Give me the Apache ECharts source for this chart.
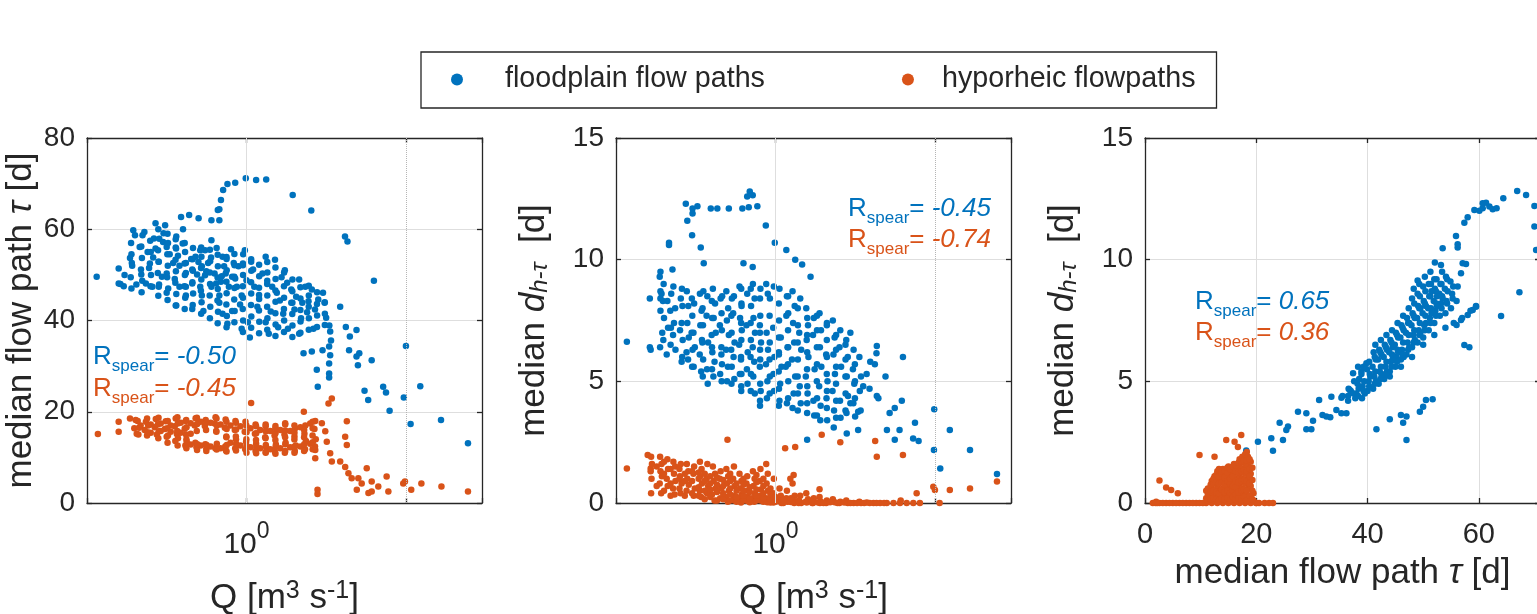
<!DOCTYPE html>
<html><head><meta charset="utf-8">
<script src="https://cdn.jsdelivr.net/npm/echarts@6/dist/echarts.min.js"></script>
<style>html,body{margin:0;padding:0;background:#fff}#c{width:1537px;height:614px}</style>
</head><body><div id="c"></div><script>
// ---------- data ----------
const seriesNames = ['floodplain flow paths', 'hyporheic flowpaths'];
const yTicks1 = [0, 20, 40, 60, 80];
const yTicks23 = [0, 5, 10, 15];
const xTicks3 = [0, 20, 40, 60];
const rSpear1 = ['-0.50', '-0.45'];
const rSpear2 = ['-0.45', '-0.74'];
const rSpear3 = ['0.65', '0.36'];

// Panel 1: [Q (m3/s), median flow path tau (d)]
const p1Blue = [
[0.115,49.6],[0.676,64.4],[0.692,66.4],[0.714,68.6],[0.76,69.9],[0.85,70.2],[0.99,71.2],[1.15,70.8],[1.33,70.9],
[1.95,67.5],[2.55,64.1],[4.15,58.4],[4.3,57.3],[6.3,48.7],[3.87,43.0],[10,34.4],[10.7,17.3],[16.6,18.2],[24.5,13.1],
[12.3,25.6],[9.7,23.1],[7.9,20.2],[7.2,25.5],[7.5,24.2],[5.5,24.6],[5.8,22.6],[6.1,31.3],[4.9,32.1],[5.1,32.8],
[5.0,30.2],[4.4,33.5],[4.2,38.6],[4.45,36.5],[4.9,37.9],[3.35,37.6],[3.3,34.3],[3.35,32.4],[3.3,30.6],[3.3,28.4],
[3.3,27.5],[2.76,29.2],[2.8,25.5],[2.57,33.2],[2.28,32.8],[3.0,33.5],
[0.158,51.4],[0.158,48.1],[0.162,48.0],[0.195,59.8],[0.2,58.7],[0.229,59.4],[0.186,53.7],[0.191,52.6],[0.204,47.9],
[0.214,56.1],[0.219,50.1],[0.245,51.5],[0.257,47.4],[0.269,61.3],[0.263,58.0],[0.269,55.8],[0.282,52.9],[0.309,60.9],
[0.302,59.1],[0.316,56.1],[0.316,50.3],[0.316,46.1],[0.363,58.4],[0.389,62.7],[0.398,56.9],[0.372,54.2],[0.380,52.0],
[0.355,49.1],[0.363,43.3],[0.417,45.5],[0.437,63.1],[0.417,52.6],[0.457,51.2],[0.457,42.5],[0.501,62.4],[0.513,55.4],
[0.490,50.1],[0.525,45.5],[0.537,42.1],[0.603,57.6],[0.603,62.0],[0.575,52.6],[0.631,50.3],[0.603,47.4],[0.661,64.2],
[0.676,62.0],[0.708,54.0],[0.692,48.5],[0.708,41.5],[0.676,43.9],[0.741,50.3],[0.759,39.3],[0.776,47.4],[0.813,42.1],
[0.832,52.6],[0.891,51.9],[0.933,45.5],[0.933,38.2],[0.912,43.5],[0.977,55.4],[1.0,48.8],[1.02,39.6],[1.05,36.3],
[1.07,52.9],[1.12,47.4],[1.17,43.0],[1.26,50.3],[1.32,54.0],[1.32,39.6],[1.38,37.1],[1.45,47.4],[1.51,53.3],[1.58,38.5],
[1.62,44.4],[1.66,49.5],[1.74,51.0],[1.82,38.2],[1.91,43.9],[1.91,46.8],[2.0,42.4],[2.14,49.0],[2.14,37.1],[2.24,43.9],
[2.34,47.4],[2.40,41.8],[2.57,46.8],[2.63,38.2],[2.69,42.4],[2.82,44.6],[3.02,46.1],[3.09,43.9],[3.16,40.6],[3.31,38.9],
[3.39,35.6],[0.417,50.4],[0.457,48.1],[0.525,51.9],[0.550,49.9],[0.646,48.1],[0.479,54.0],[0.513,47.4],[0.550,55.4],
[0.724,51.9],[0.813,49.6],[0.871,47.4],[0.676,45.5],[0.417,47.4],[0.380,47.4],[0.347,52.6],[0.295,49.6],[0.282,47.4],
[0.234,48.1],[0.45,53.5],[0.5,52.8],[0.56,50.8],[0.6,53.8],[0.65,55.9],[0.7,49.7],[0.75,53.9],[0.8,55.6],[0.85,49.2],
[0.95,52.1],[1.1,51.2],[1.2,45.6],[1.35,48.7],[1.42,42.0],[1.55,46.1],[1.7,41.5],[1.8,48.3],[2.05,45.2],[2.2,40.5],
[2.45,44.2],[0.36,56.0],[0.40,60.0],[0.33,54.5],[0.3,57.2],[0.26,53.8],[0.24,55.0],
[0.17,47.5],[0.172,50.0],[0.19,47.0],[0.188,49.5],[0.192,52.0],[0.19,54.5],[0.189,57.0],
[0.22,46.2],[0.222,48.7],[0.218,51.2],[0.221,53.7],[0.219,56.2],[0.223,58.7],
[0.25,47.5],[0.252,50.0],[0.248,52.5],[0.251,55.0],[0.249,57.5],
[0.28,45.4],[0.283,47.9],[0.278,50.4],[0.281,52.9],[0.279,55.4],[0.284,57.9],[0.28,60.0],
[0.32,44.5],[0.323,47.0],[0.318,49.5],[0.321,52.0],[0.319,54.5],[0.322,57.0],[0.32,59.0],
[0.36,43.3],[0.363,45.8],[0.358,48.3],[0.361,50.8],[0.359,53.3],[0.362,55.8],[0.36,57.8],
[0.41,42.5],[0.413,45.0],[0.408,47.5],[0.411,50.0],[0.409,52.5],[0.412,55.0],[0.41,57.0],
[0.46,43.4],[0.463,45.9],[0.458,48.4],[0.461,50.9],[0.459,53.4],[0.462,55.9],
[0.52,41.5],[0.523,44.0],[0.518,46.5],[0.521,49.0],[0.519,51.5],[0.522,54.0],[0.52,56.0],
[0.59,40.5],[0.593,43.0],[0.588,45.5],[0.591,48.0],[0.589,50.5],[0.592,53.0],[0.59,55.5],
[0.66,39.4],[0.663,41.9],[0.658,44.4],[0.661,46.9],[0.659,49.4],[0.662,51.9],[0.66,54.4],
[0.75,38.5],[0.753,41.0],[0.748,43.5],[0.751,46.0],[0.749,48.5],[0.752,51.0],[0.75,53.5],
[0.84,39.6],[0.843,42.1],[0.838,44.6],[0.841,47.1],[0.839,49.6],[0.842,52.1],[0.84,54.6],
[0.95,37.5],[0.953,40.0],[0.948,42.5],[0.951,45.0],[0.949,47.5],[0.952,50.0],[0.95,52.5],[0.954,54.5],
[1.07,38.4],[1.073,40.9],[1.068,43.4],[1.071,45.9],[1.069,48.4],[1.072,50.9],[1.07,53.4],
[1.2,37.2],[1.203,39.7],[1.198,42.2],[1.201,44.7],[1.199,47.2],[1.202,49.7],[1.2,52.2],
[1.35,38.0],[1.353,40.5],[1.348,43.0],[1.351,45.5],[1.349,48.0],[1.352,50.5],[1.35,52.8],
[1.52,36.6],[1.523,39.1],[1.518,41.6],[1.521,44.1],[1.519,46.6],[1.522,49.1],[1.52,51.6],
[1.72,37.5],[1.723,40.0],[1.718,42.5],[1.721,45.0],[1.719,47.5],[1.722,50.5],
[1.94,36.4],[1.943,38.9],[1.938,41.4],[1.941,43.9],[1.939,46.4],[1.942,49.0],
[2.18,37.3],[2.183,39.8],[2.178,42.3],[2.181,44.8],[2.179,47.3],
[2.46,38.0],[2.463,40.5],[2.458,43.0],[2.461,45.5],[2.459,47.6],
[2.77,38.6],[2.773,41.1],[2.768,43.6],[2.771,46.2],[3.1,39.0],[3.103,41.5],[3.098,44.0]
];
const p1Orange = [
[0.117,15.1],[0.158,17.8],[0.158,15.6],[0.186,18.5],[1.07,21.9],[2.29,20.0],[3.43,22.9],[3.27,21.8],[2.97,17.5],
[3.12,15.7],[3.19,13.4],[2.70,11.6],[2.70,9.8],[3.35,10.9],[3.43,9.1],[3.87,9.1],[4.16,14.5],[4.26,12.7],[4.26,17.9],
[4.16,7.9],[4.36,6.5],[4.57,5.4],[5.03,5.4],[5.28,4.3],[4.92,2.9],[5.68,7.6],[6.10,4.7],[6.71,3.6],[7.57,5.8],[7.76,2.5],
[5.82,2.2],[6.10,2.5],[2.79,2.9],[2.79,2.0],[9.62,4.3],[9.86,4.7],[10.8,2.9],[12.5,4.3],[16.7,3.6],[24.5,2.5],
[0.202,18.2],[0.198,16.4],[0.205,15.2],[0.234,17.8],[0.230,16.0],[0.238,14.8],[0.270,18.4],[0.266,16.6],[0.274,15.0],
[0.312,17.9],[0.308,16.2],[0.316,14.5],[0.360,18.5],[0.355,16.8],[0.366,15.1],[0.358,13.6],[0.416,18.0],[0.410,16.3],
[0.420,14.0],[0.414,12.6],[0.480,18.6],[0.474,17.0],[0.486,12.2],[0.478,13.2],[0.555,18.2],[0.548,16.9],[0.560,11.9],
[0.552,12.9],[0.640,18.8],[0.632,17.4],[0.646,15.8],[0.638,12.0],[0.740,18.3],[0.732,16.5],[0.748,14.6],[0.736,12.4],
[0.744,11.5],[0.853,18.0],[0.845,16.0],[0.860,14.0],[0.850,12.0],[0.986,17.8],[0.975,15.6],[0.995,13.4],[0.982,11.8],
[1.14,17.2],[1.13,15.2],[1.15,13.0],[1.14,11.4],[1.32,16.8],[1.31,14.4],[1.33,12.2],[1.32,11.0],[1.52,16.9],[1.50,14.8],
[1.53,12.8],[1.51,11.2],[1.75,17.2],[1.73,15.0],[1.76,13.2],[1.74,11.0],[2.02,16.4],[2.00,14.6],[2.04,12.6],[2.01,11.4],
[2.34,17.0],[2.31,15.2],[2.36,13.6],[2.33,11.8],[2.70,18.0],[2.67,16.2],[2.72,14.0],[2.69,12.4],
[0.217,17.0],[0.251,17.2],[0.251,15.4],[0.290,17.4],[0.290,15.8],[0.335,17.0],[0.335,15.6],[0.387,17.6],[0.387,15.4],
[0.447,17.5],[0.447,15.2],[0.447,12.8],[0.516,17.8],[0.516,12.6],[0.596,17.6],[0.596,12.4],[0.688,17.2],[0.688,12.0],
[0.794,17.0],[0.794,13.2],[0.917,16.8],[0.917,12.6],[1.06,16.4],[1.06,12.2],[1.22,16.0],[1.22,12.0],[1.41,15.8],
[1.41,11.8],[1.63,16.0],[1.63,12.0],[1.88,15.8],[1.88,12.2],[2.18,16.6],[2.18,12.4],[2.51,17.4],[2.51,13.0],
[0.21,15.0],[0.212,16.5],[0.208,18.0],[0.24,15.5],[0.242,17.0],[0.238,18.5],
[0.28,14.2],[0.282,15.7],[0.278,17.2],[0.281,18.7],[0.32,13.2],[0.322,14.8],[0.318,16.4],[0.321,18.0],
[0.37,12.6],[0.372,14.2],[0.368,15.8],[0.371,17.4],[0.369,18.8],[0.42,12.0],[0.422,13.5],[0.418,15.0],[0.421,16.6],[0.419,18.2],
[0.49,11.6],[0.492,12.9],[0.488,15.8],[0.491,17.3],[0.489,18.7],[0.56,11.4],[0.562,12.7],[0.558,16.0],[0.561,17.6],
[0.65,11.7],[0.652,13.0],[0.648,15.6],[0.651,17.0],[0.649,18.5],[0.75,11.3],[0.752,12.7],[0.748,14.4],[0.751,16.2],[0.749,17.8],
[0.86,11.5],[0.862,13.0],[0.858,14.6],[0.861,16.1],[0.859,17.6],[1.0,11.0],[1.003,12.5],[0.998,14.0],[1.001,15.5],[0.999,17.0],
[1.15,10.9],[1.153,12.3],[1.148,13.8],[1.151,15.3],[1.149,16.8],[1.32,11.2],[1.323,12.7],[1.318,14.2],[1.321,15.7],[1.319,17.2],
[1.52,10.8],[1.523,12.3],[1.518,13.8],[1.521,15.3],[1.519,16.4],[1.75,11.4],[1.753,12.9],[1.748,14.4],[1.751,15.9],[1.749,17.5],
[2.0,11.0],[2.003,12.4],[1.998,13.9],[2.001,15.4],[1.999,17.0],[2.3,11.4],[2.303,12.9],[2.298,14.4],[2.301,16.0],
[2.6,11.8],[2.603,13.3],[2.598,14.8],[2.601,16.4],[2.599,17.8]
];

// Panel 2: [Q (m3/s), median d_h-tau (d)]
const p2Blue = [
[0.117,6.63],[0.274,12.3],[0.302,12.1],[0.302,11.9],[0.324,12.2],[0.28,11.6],[0.30,11.0],[0.34,10.5],[0.355,9.85],
[0.393,12.1],[0.432,12.1],[0.51,12.1],[0.62,12.1],[0.68,12.15],[0.665,12.6],[0.69,12.8],[0.72,12.65],[0.77,12.2],
[0.87,11.4],[0.99,10.7],[1.17,10.4],[1.33,10.0],[1.47,9.8],[1.66,9.3],[0.63,9.85],[0.72,9.7],[0.215,10.7],[0.215,10.6],
[0.226,9.6],[0.19,9.5],[0.19,8.4],[0.19,8.7],[0.163,8.4],[0.163,6.4],[0.165,6.3],
[4.32,6.45],[3.93,5.8],[4.9,5.2],[4.32,4.4],[4.42,4.3],[6.3,6.0],[6.2,4.2],[5.6,3.9],[5.2,3.7],[5.0,3.0],[6.0,3.0],
[5.6,2.6],[7.5,3.3],[7.3,2.65],[7.9,2.55],[9.9,3.85],[9.86,2.18],[10.8,1.42],[12.4,3.0],[16.6,2.18],[24.5,1.19],
[3.89,4.7],[3.3,3.75],[3.3,3.0],[2.8,2.86],[3.16,3.55],[2.95,4.1],[3.55,4.8],[3.73,5.3],[4.2,5.7],[4.3,6.15],[2.95,7.0],
[1.58,2.6],
[0.188,9.3],[0.193,8.6],[0.190,7.9],[0.195,7.0],[0.189,6.4],
[0.229,8.9],[0.235,8.0],[0.231,7.4],[0.236,6.3],[0.228,6.9],
[0.278,8.7],[0.284,8.1],[0.280,7.4],[0.286,6.8],[0.277,6.2],[0.283,5.9],
[0.336,8.6],[0.344,7.9],[0.338,7.3],[0.346,6.7],[0.335,6.1],[0.342,5.4],
[0.405,8.8],[0.418,8.2],[0.410,7.6],[0.422,7.0],[0.400,6.4],[0.415,5.8],[0.408,5.2],
[0.492,8.7],[0.505,8.0],[0.496,7.5],[0.510,6.9],[0.490,6.3],[0.503,5.6],[0.497,5.0],
[0.595,8.9],[0.612,8.2],[0.600,7.6],[0.615,7.1],[0.592,6.5],[0.608,5.9],[0.598,5.3],[0.610,4.8],
[0.722,9.0],[0.740,8.4],[0.728,7.6],[0.744,7.0],[0.720,6.4],[0.736,5.8],[0.726,5.2],[0.742,4.5],
[0.875,9.0],[0.895,8.6],[0.880,7.0],[0.898,6.3],[0.872,5.7],[0.890,5.0],[0.884,4.3],
[1.06,8.8],[1.08,6.8],[1.05,6.2],[1.09,5.6],[1.07,4.9],[1.06,4.2],
[1.28,8.7],[1.32,8.1],[1.29,7.4],[1.31,6.6],[1.27,5.9],[1.33,5.2],[1.30,4.5],[1.28,3.9],
[1.56,8.0],[1.60,7.3],[1.57,6.7],[1.61,6.0],[1.55,5.2],[1.59,4.5],[1.58,3.7],
[1.89,7.8],[1.93,7.1],[1.90,6.4],[1.94,5.6],[1.88,4.8],[1.92,4.0],[1.91,3.4],
[2.29,7.5],[2.35,6.8],[2.31,6.1],[2.36,5.3],[2.28,4.6],[2.33,3.8],[2.32,3.1],
[2.78,6.7],[2.84,6.0],[2.80,5.2],[2.85,4.4],[2.79,3.7],
[3.36,6.0],[3.44,5.2],[3.38,4.6],[3.42,3.8],
[0.210,8.3],[0.212,7.2],[0.208,6.1],[0.255,8.4],[0.252,7.1],[0.258,5.8],
[0.309,8.2],[0.306,7.0],[0.312,6.4],[0.307,5.6],[0.374,8.5],[0.370,7.7],[0.378,6.6],[0.372,5.5],[0.376,4.9],
[0.453,8.4],[0.448,7.3],[0.458,6.1],[0.450,5.3],[0.549,8.5],[0.543,7.8],[0.554,6.6],[0.546,6.0],[0.552,5.1],
[0.665,8.6],[0.658,7.3],[0.670,6.2],[0.662,5.5],[0.668,4.9],[0.805,8.8],[0.798,7.3],[0.812,6.6],[0.802,5.9],
[0.808,4.6],[0.800,4.0],[0.977,8.9],[0.968,7.2],[0.985,6.0],[0.972,5.3],[0.980,4.6],[1.18,8.5],[1.17,7.7],[1.19,6.4],
[1.16,5.6],[1.18,4.1],[1.43,8.4],[1.41,7.0],[1.45,6.3],[1.42,4.8],[1.44,4.1],[1.74,7.6],[1.72,6.9],[1.76,5.5],
[1.73,4.2],[1.75,3.6],[2.10,7.3],[2.08,6.1],[2.12,5.0],[2.09,4.3],[2.11,3.4],[2.55,7.1],[2.52,6.4],[2.58,5.6],
[2.54,4.2],[2.56,3.5],[3.09,6.3],[3.06,5.5],[3.12,4.9],[3.08,4.1],
[0.198,6.7],[0.2,7.6],[0.197,8.3],[0.199,9.0],[0.22,6.5],[0.221,7.2],[0.219,7.9],[0.222,8.6],
[0.26,6.0],[0.262,6.7],[0.258,7.4],[0.261,8.1],[0.259,8.8],[0.30,5.6],[0.302,6.3],[0.298,7.0],[0.301,7.7],[0.299,8.4],
[0.35,5.2],[0.352,5.9],[0.348,6.6],[0.351,7.3],[0.349,8.0],[0.353,8.7],[0.40,5.5],[0.402,6.2],[0.398,6.9],[0.401,7.6],[0.399,8.3],
[0.46,5.0],[0.462,5.7],[0.458,6.4],[0.461,7.1],[0.459,7.8],[0.463,8.5],[0.53,4.9],[0.532,5.6],[0.528,6.3],[0.531,7.0],[0.529,7.7],[0.533,8.4],
[0.61,4.6],[0.612,5.3],[0.608,6.0],[0.611,6.7],[0.609,7.4],[0.613,8.1],[0.61,8.8],
[0.70,4.6],[0.702,5.3],[0.698,6.0],[0.701,6.7],[0.699,7.4],[0.703,8.1],[0.70,8.8],
[0.80,4.2],[0.802,4.9],[0.798,5.6],[0.801,6.3],[0.799,7.0],[0.803,7.7],[0.80,8.4],
[0.92,4.5],[0.922,5.2],[0.918,5.9],[0.921,6.6],[0.919,7.7],[0.923,8.4],
[1.05,4.0],[1.052,4.7],[1.048,5.4],[1.051,6.1],[1.049,6.8],[1.053,7.5],[1.05,8.2],
[1.2,4.3],[1.203,5.0],[1.198,5.7],[1.201,6.4],[1.199,7.1],[1.202,7.8],[1.2,8.5],
[1.38,3.8],[1.383,4.5],[1.378,5.2],[1.381,5.9],[1.379,6.6],[1.382,7.3],[1.38,8.0],
[1.58,4.1],[1.583,4.8],[1.578,5.5],[1.581,6.2],[1.579,6.9],[1.582,7.6],
[1.82,3.6],[1.823,4.3],[1.818,5.0],[1.821,5.7],[1.819,6.4],[1.822,7.1],[1.82,7.7],
[2.1,3.9],[2.103,4.6],[2.098,5.3],[2.101,6.0],[2.099,6.7],[2.102,7.4],
[2.4,3.5],[2.403,4.2],[2.398,4.9],[2.401,5.6],[2.399,6.3],[2.402,6.9],
[2.75,3.8],[2.753,4.5],[2.748,5.2],[2.751,5.9],[2.749,6.5],[3.15,4.3],[3.153,5.0],[3.148,5.7]
];
const p2Orange = [
[0.117,1.42],[0.158,1.97],[0.165,1.42],[0.50,2.6],[1.15,2.25],[1.33,2.3],[1.95,2.8],[2.55,2.5],[4.22,2.55],[4.32,1.9],
[6.3,1.97],[7.68,0.4],[9.77,0.67],[10.0,0.53],[12.4,0.53],[16.6,0.6],[24.5,0.88],[10.7,0],[1.89,0.56],[1.30,1.15],
[1.24,1.0],
[0.166,1.9],[0.168,1.6],[0.165,1.3],[0.167,1.0],[0.166,0.4],
[0.189,1.9],[0.193,1.6],[0.190,1.3],[0.194,1.1],[0.188,0.8],[0.192,0.4],
[0.229,1.7],[0.235,1.5],[0.231,1.2],[0.236,0.9],[0.228,0.6],[0.233,0.35],
[0.278,1.6],[0.284,1.3],[0.280,1.0],[0.286,0.75],[0.277,0.5],
[0.336,1.7],[0.344,1.4],[0.338,1.1],[0.346,0.8],[0.335,0.5],[0.342,0.25],
[0.405,1.5],[0.418,1.2],[0.410,0.9],[0.422,0.6],[0.400,0.35],[0.415,0.1],
[0.492,1.4],[0.505,1.1],[0.496,0.8],[0.510,0.5],[0.490,0.25],[0.503,0.05],
[0.595,1.2],[0.612,0.9],[0.600,0.6],[0.615,0.35],[0.592,0.15],[0.608,0.02],
[0.722,1.3],[0.740,1.0],[0.728,0.7],[0.744,0.4],[0.720,0.2],[0.736,0.05],
[0.875,1.6],[0.895,1.2],[0.880,0.8],[0.898,0.5],[0.872,0.2],[0.890,0.03],
[1.06,0.6],[1.08,0.3],[1.05,0.1],[1.09,0.0],[1.28,0.8],[1.32,0.3],[1.29,0.1],[1.31,0.0],
[1.56,0.4],[1.60,0.15],[1.57,0.02],[1.89,0.25],[1.93,0.05],[1.90,0.0],[2.29,0.15],[2.35,0.03],
[2.78,0.1],[2.84,0.0],[3.36,0.05],[3.44,0.0],[4.12,0.0],[4.99,0.0],[6.04,0.0],[6.1,0.1],[7.32,0.0],
[0.210,1.8],[0.212,1.4],[0.208,1.0],[0.211,0.7],[0.255,1.6],[0.252,1.1],[0.258,0.8],[0.254,0.4],
[0.309,1.5],[0.306,1.2],[0.312,0.6],[0.307,0.3],[0.374,1.6],[0.370,1.0],[0.378,0.7],[0.372,0.4],
[0.453,1.3],[0.448,1.0],[0.458,0.6],[0.450,0.2],[0.549,1.5],[0.543,1.0],[0.554,0.7],[0.546,0.3],[0.552,0.1],
[0.665,1.1],[0.658,0.8],[0.670,0.5],[0.662,0.25],[0.668,0.08],[0.805,1.4],[0.798,0.9],[0.812,0.55],[0.802,0.3],
[0.808,0.1],[0.977,1.0],[0.968,0.4],[0.985,0.15],[0.972,0.02],[1.18,0.5],[1.17,0.2],[1.19,0.05],
[1.43,0.3],[1.41,0.08],[1.45,0.0],[1.74,0.2],[1.72,0.0],[2.10,0.1],[2.08,0.0],[2.55,0.05],[2.52,0.0],
[3.09,0.0],[3.74,0.02],[4.53,0.0],[5.5,0.0],[6.65,0.0],[8.05,0.0],
[0.18,0.7],[0.18,1.5],[0.2,0.5],[0.2,1.2],[0.2,1.7],[0.22,0.3],[0.22,0.8],[0.22,1.4],[0.25,0.6],[0.25,1.0],[0.25,1.4],
[0.27,0.3],[0.27,0.9],[0.27,1.2],[0.3,0.4],[0.3,0.9],[0.3,1.3],[0.33,0.3],[0.33,0.65],[0.33,1.0],[0.33,1.25],
[0.36,0.15],[0.36,0.5],[0.36,0.9],[0.36,1.2],[0.39,0.25],[0.39,0.55],[0.39,0.8],[0.39,1.1],
[0.43,0.1],[0.43,0.45],[0.43,0.75],[0.43,1.05],[0.47,0.15],[0.47,0.4],[0.47,0.7],[0.47,0.95],
[0.52,0.1],[0.52,0.35],[0.52,0.6],[0.52,0.9],[0.52,1.2],[0.57,0.05],[0.57,0.25],[0.57,0.5],[0.57,0.8],
[0.63,0.1],[0.63,0.3],[0.63,0.5],[0.63,0.75],[0.63,1.0],[0.69,0.03],[0.69,0.2],[0.69,0.45],[0.69,0.65],
[0.76,0.1],[0.76,0.3],[0.76,0.55],[0.76,0.85],[0.76,1.15],[0.84,0.05],[0.84,0.2],[0.84,0.4],[0.84,0.7],[0.84,1.0],
[0.93,0.02],[0.93,0.15],[0.93,0.35],[0.93,0.6],[1.0,0.05],[1.0,0.25],[1.12,0.0],[1.12,0.12],[1.25,0.04],[1.25,0.2],
[1.4,0.0],[1.4,0.1],[1.55,0.05],[1.7,0.0],[1.7,0.08],[1.85,0.02],[2.0,0.0],[2.2,0.03],[2.45,0.0],[2.7,0.02],
[2.95,0.0],[3.25,0.0],[3.6,0.0],[3.9,0.0],[4.3,0.0],[4.8,0.0]
];

// Panel 3: [median flow path tau (d), median d_h-tau (d)]
const p3Blue = [
[18.2,2.16],[20.3,2.52],[23.0,2.15],[22.7,2.66],[24.2,3.3],[24.8,2.59],[25.4,3.0],[25.7,3.14],[27.5,3.75],[29.0,3.69],
[29.0,3.03],[29.9,3.03],[30.2,3.38],[31.3,4.23],[31.9,3.62],[32.6,3.55],[33.3,3.52],[33.5,4.37],[35.3,4.33],[34.4,3.82],
[35.3,3.69],[36.2,3.69],[36.8,4.64],[37.4,5.33],[38.9,5.40],[39.8,5.74],[41.6,3.03],[44.0,3.44],[46.0,3.62],[46.4,3.3],
[47.0,2.59],[47.0,3.55],[49.4,3.75],[50.5,4.23],[51.7,4.26],[50.0,3.96],[57.4,6.49],[58.3,6.40],[64.0,7.69],[67.3,8.66],
[59.5,8.07],[58.9,7.93],[58.0,7.73],[56.8,7.52],[56.0,7.32],[57.1,9.85],[57.7,9.82],[56.8,9.44],[52.1,9.88],[53.2,9.78],
[49.0,9.14],[53.5,10.47],[55.9,10.97],[56.2,10.63],[56.2,10.5],[57.4,11.52],[58.0,11.74],[59.2,12.04],[60.1,12.01],
[60.7,12.32],[61.3,12.34],[61.9,12.18],[62.5,12.07],[63.2,12.11],[60.7,12.11],[64.4,12.52],[66.9,12.82],[68.5,12.66],
[70.0,12.21],[70.0,11.36],[70.3,10.4],
[44,5.2],[46,5.6],[48,6.0],[50,6.5],[52,6.9],[54,7.2],[55.5,7.4],[57,7.6],[58.5,7.9],[59.5,8.1],
[38,4.5],[38.2,4.9],[39,4.3],[39.1,4.8],[38.9,5.3],[40,4.6],[40.2,5.0],[39.9,5.5],[41,4.7],[41.2,5.2],[40.9,5.6],[41.1,6.2],
[42,4.9],[42.2,5.4],[41.9,5.9],[42.1,6.3],[43,5.1],[43.2,5.6],[42.9,6.0],[43.1,6.5],[44,5.4],[44.2,5.8],[43.9,6.2],[44.1,6.7],
[45,5.6],[45.2,6.0],[44.9,6.5],[45.1,7.0],[46,5.9],[46.2,6.3],[45.9,6.8],[46.1,7.3],[47,6.1],[47.2,6.6],[46.9,7.0],[47.1,7.6],
[48,6.4],[48.2,6.9],[47.9,7.3],[48.1,7.8],[48.0,8.4],[49,6.6],[49.2,7.1],[48.9,7.6],[49.1,8.1],[49.0,8.6],
[50,6.8],[50.2,7.3],[49.9,7.8],[50.1,8.3],[50.0,8.9],[51,7.1],[51.2,7.6],[50.9,8.0],[51.1,8.5],[51.0,9.0],
[52,7.4],[52.2,7.9],[51.9,8.3],[52.1,8.8],[52.0,9.2],[53,7.7],[53.2,8.2],[52.9,8.6],[53.1,9.0],
[54,7.8],[54.2,8.3],[53.9,8.8],[54.1,9.3],[55,8.0],[55.2,8.6],[54.9,9.1],[56,8.3],[56.2,8.9],
[38.5,5.1],[39.5,4.5],[40.5,5.2],[41.5,5.0],[41.5,5.9],[42.5,5.3],[42.5,6.1],[43.5,5.4],[43.5,6.3],[44.5,5.9],[44.5,6.4],
[45.5,6.2],[45.5,6.8],[46.5,6.0],[46.5,7.1],[47.5,6.4],[47.5,7.4],[48.5,6.7],[48.5,7.6],[49.5,7.0],[49.5,8.0],[50.5,7.4],
[50.5,8.1],[51.5,7.8],[51.5,8.7],[52.5,8.1],[52.5,8.5],[53.5,8.4],[36.5,4.4],[37,4.6],[37.8,4.3],[35.5,4.4],
[36.5,4.2],[36.6,4.7],[37.5,4.5],[37.6,5.0],[38.3,4.4],[38.4,4.7],[38.3,5.6],[39.3,4.6],[39.4,5.0],[39.3,5.6],
[40.3,4.8],[40.4,5.3],[40.3,5.8],[41.3,4.9],[41.4,5.4],[41.3,6.0],[41.4,6.5],[42.3,5.1],[42.4,5.6],[42.3,6.2],[42.4,6.7],
[43.3,5.3],[43.4,5.8],[43.3,6.4],[43.4,6.9],[44.3,5.6],[44.4,6.1],[44.3,6.6],[44.4,7.1],[45.3,5.8],[45.4,6.3],[45.3,6.9],[45.4,7.4],
[46.3,6.1],[46.4,6.6],[46.3,7.2],[46.4,7.7],[47.3,6.3],[47.4,6.9],[47.3,7.4],[47.4,8.0],
[48.3,6.6],[48.4,7.1],[48.3,7.7],[48.4,8.2],[48.3,8.8],[49.3,6.9],[49.4,7.4],[49.3,8.0],[49.4,8.5],[49.3,9.0],
[50.3,7.1],[50.4,7.7],[50.3,8.2],[50.4,8.7],[50.3,9.3],[51.3,7.4],[51.4,8.0],[51.3,8.5],[51.4,9.0],[51.3,9.5],
[52.3,7.7],[52.4,8.2],[52.3,8.7],[52.4,9.2],[53.3,8.0],[53.4,8.5],[53.3,9.0],[53.4,9.5],
[54.3,8.2],[54.4,8.7],[54.3,9.2],[55.3,8.4],[55.4,8.9]
];
const p3Orange = [
[1.4,0],[2.6,0],[3.8,0],[5.0,0],[6.2,0],[7.4,0],[9.2,0],[11.0,0],[20.0,0],[21.5,0],[23.0,0],
[1.9,0],[2.2,0],[3.2,0],[4.4,0],[5.6,0],[6.8,0],[8.0,0],[8.6,0],[9.8,0],[10.4,0],[20.5,0],[22.3,0],[2.0,0.05],
[2.6,0.92],[3.8,0.64],[4.7,0.53],[5.9,0.40],[9.8,1.97],[12.5,1.9],[14.6,2.59],[16.1,2.52],[17.3,2.79],[16.7,2.3],
[11,0.2],[11,0.5],[12,0],[12,0.3],[12,0.6],[12,0.9],[12.5,0.1],[12.5,0.5],[12.5,1.1],
[13,0],[13,0.3],[13,0.7],[13,1.0],[13,1.3],[13.5,0.15],[13.5,0.5],[13.5,0.9],[13.5,1.2],
[14,0],[14,0.3],[14,0.6],[14,1.0],[14,1.4],[14.5,0.1],[14.5,0.5],[14.5,0.8],[14.5,1.2],
[15,0],[15,0.3],[15,0.7],[15,1.1],[15,1.5],[15.5,0.2],[15.5,0.6],[15.5,0.9],[15.5,1.3],
[16,0],[16,0.4],[16,0.8],[16,1.2],[16,1.6],[16.5,0.1],[16.5,0.5],[16.5,1.0],[16.5,1.4],
[17,0],[17,0.3],[17,0.7],[17,1.1],[17,1.5],[17,1.8],[17.5,0.2],[17.5,0.6],[17.5,1.0],[17.5,1.4],[17.5,1.9],
[18,0],[18,0.4],[18,0.8],[18,1.2],[18,1.6],[18,2.0],[18.5,0.2],[18.5,0.6],[18.5,1.0],[18.5,1.5],[18.5,1.9],
[19,0],[19,0.3],[19,0.7],[19,1.2],[19,1.7],[19.5,0.1],[19.5,0.4],[20,0],
[11.3,0.1],[11.3,0.35],[11.3,0.6],[11.8,0.15],[11.8,0.45],[11.8,0.75],[12.3,0.2],[12.3,0.5],[12.3,0.8],[12.3,1.0],
[12.8,0.15],[12.8,0.45],[12.8,0.85],[12.8,1.15],[13.3,0.1],[13.3,0.4],[13.3,0.8],[13.3,1.1],[13.3,1.4],
[13.8,0.2],[13.8,0.55],[13.8,0.85],[13.8,1.2],[13.8,1.3],[14.3,0.15],[14.3,0.45],[14.3,0.75],[14.3,1.05],[14.3,1.35],
[14.8,0.2],[14.8,0.5],[14.8,0.9],[14.8,1.25],[14.8,1.45],[15.3,0.1],[15.3,0.4],[15.3,0.8],[15.3,1.0],[15.3,1.4],
[15.8,0.25],[15.8,0.5],[15.8,0.7],[15.8,1.1],[15.8,1.5],[16.3,0.15],[16.3,0.35],[16.3,0.65],[16.3,0.9],[16.3,1.3],[16.3,1.55],
[16.8,0.2],[16.8,0.45],[16.8,0.85],[16.8,1.25],[16.8,1.65],[17.3,0.1],[17.3,0.5],[17.3,0.9],[17.3,1.3],[17.3,1.7],
[17.8,0.25],[17.8,0.55],[17.8,0.95],[17.8,1.35],[17.8,1.75],[18.3,0.1],[18.3,0.5],[18.3,0.9],[18.3,1.3],[18.3,1.75],[18.3,2.1],
[18.8,0.3],[18.8,0.8],[18.8,1.1],[18.8,1.4],[18.8,1.8],[19.3,0.15],[19.3,0.5],[19.3,0.95],[19.3,1.45]
];

// ---------- styling ----------
const FF = "'Liberation Sans', Arial, Helvetica, sans-serif";
const AX = '#262626';
const GRIDC = '#dedede';
const BLUE = '#0072BD';
const ORANGE = '#D95319';
const GRIDS = [
  {left: 87, top: 138, width: 395, height: 365},
  {left: 616, top: 138, width: 395, height: 365},
  {left: 1145, top: 138, width: 395, height: 365}
];

const axisLine = {show: true, onZero: false, lineStyle: {color: AX, width: 1.3}};
const tickIn = {show: true, inside: true, length: 5, lineStyle: {color: AX, width: 1.3}};

const logLabel = {
  margin: 17,
  formatter: v => (Math.abs(v - 1) < 1e-9 ? '{b|10}{s|0}' : ''),
  rich: {
    b: {fontSize: 30, lineHeight: 50, fontFamily: FF, color: AX},
    s: {fontSize: 23, lineHeight: 23, verticalAlign: 'top', fontFamily: FF, color: AX}
  }
};
const qName = {
  name: 'Q [m{sup|3} s{sup|-1}]',
  nameLocation: 'middle', nameGap: 76,
  nameTextStyle: {fontSize: 35, lineHeight: 38, fontFamily: FF, color: AX,
    rich: {sup: {fontSize: 25, lineHeight: 25, verticalAlign: 'top', fontFamily: FF, color: AX}}}
};
function logX(grid) {
  return Object.assign({
    type: 'log', logBase: 10, gridIndex: grid, min: 0.1, max: 30, position: 'bottom',
    axisLine, axisTick: tickIn, axisLabel: logLabel, splitLine: {show: false}, minorTick: {show: false}
  }, qName);
}
function logXTop(grid) {
  return {type: 'log', logBase: 10, gridIndex: grid, min: 0.1, max: 30, position: 'top',
    axisLine, axisTick: tickIn, axisLabel: {show: false}, splitLine: {show: false}};
}
const tauName = 'median flow path {it|τ} [d]';
const dName = 'median {it|d}{sub|h-τ}  [d]';
const nameRich = {
  it: {fontStyle: 'italic', fontSize: 35, fontFamily: FF, color: AX},
  sub: {fontStyle: 'italic', fontSize: 24, lineHeight: 24, verticalAlign: 'bottom', fontFamily: FF, color: AX}
};
function valY(grid, max, interval, name, gap) {
  return {
    type: 'value', gridIndex: grid, min: 0, max, interval, position: 'left',
    axisLine, axisTick: tickIn,
    axisLabel: {fontSize: 28, fontFamily: FF, color: AX, margin: 12},
    splitLine: {show: true, lineStyle: {color: GRIDC, width: 1}},
    name, nameLocation: 'middle', nameGap: gap, nameRotate: 90,
    nameTextStyle: {fontSize: 35, lineHeight: 36, fontFamily: FF, color: AX, rich: nameRich}
  };
}
function valYRight(grid, max, interval) {
  return {type: 'value', gridIndex: grid, min: 0, max, interval, position: 'right',
    axisLine, axisTick: tickIn, axisLabel: {show: false}, splitLine: {show: false}};
}

const xAxes = [
  logX(0), logX(1),
  {type: 'value', gridIndex: 2, min: 0, max: 71, interval: 20, position: 'bottom',
   axisLine, axisTick: tickIn,
   axisLabel: {fontSize: 29, fontFamily: FF, color: AX, margin: 17, showMaxLabel: false,
     formatter: v => (xTicks3.indexOf(v) >= 0 ? String(v) : '')},
   splitLine: {show: true, lineStyle: {color: GRIDC, width: 1}},
   name: tauName, nameLocation: 'middle', nameGap: 51,
   nameTextStyle: {fontSize: 35, lineHeight: 38, fontFamily: FF, color: AX, rich: nameRich}},
  logXTop(0), logXTop(1),
  {type: 'value', gridIndex: 2, min: 0, max: 71, interval: 20, position: 'top',
   axisLine, axisTick: tickIn, axisLabel: {show: false}, splitLine: {show: false}}
];
const yAxes = [
  valY(0, yTicks1[yTicks1.length - 1], 20, tauName, 48),
  valY(1, yTicks23[yTicks23.length - 1], 5, dName, 64),
  valY(2, yTicks23[yTicks23.length - 1], 5, dName, 64),
  valYRight(0, 80, 20), valYRight(1, 15, 5), valYRight(2, 15, 5)
];

// vertical grid lines of the log panels (solid at 10^0, dotted at 10^1), drawn below the points
const vLines = {
  silent: true, symbol: ['none', 'none'], label: {show: false}, animation: false,
  data: [
    {xAxis: 1, lineStyle: {color: GRIDC, type: 'solid', width: 1}},
    {xAxis: 10, lineStyle: {color: '#b5b5b5', type: 'dotted', width: 1}}
  ]
};
function sc(name, data, xi, yi, color, extra) {
  return Object.assign({
    type: 'scatter', name, data, xAxisIndex: xi, yAxisIndex: yi, z: 3,
    symbol: 'circle', symbolSize: 6.5, itemStyle: {color, opacity: 1},
    emphasis: {disabled: true}, clip: false, large: false
  }, extra || {});
}
const series = [
  {type: 'scatter', name: 'grid-x-0', data: [], xAxisIndex: 0, yAxisIndex: 0, z: 1, silent: true, markLine: vLines},
  {type: 'scatter', name: 'grid-x-1', data: [], xAxisIndex: 1, yAxisIndex: 1, z: 1, silent: true, markLine: vLines},
  sc(seriesNames[0], p1Blue, 0, 0, BLUE),
  sc(seriesNames[1], p1Orange, 0, 0, ORANGE),
  sc(seriesNames[0], p2Blue, 1, 1, BLUE),
  sc(seriesNames[1], p2Orange, 1, 1, ORANGE),
  sc(seriesNames[0], p3Blue, 2, 2, BLUE),
  sc(seriesNames[1], p3Orange, 2, 2, ORANGE)
];

const rRich = {
  r: {fontSize: 26, lineHeight: 36, fontFamily: FF},
  s: {fontSize: 17, lineHeight: 17, verticalAlign: 'bottom', fontFamily: FF},
  i: {fontSize: 26, lineHeight: 36, fontStyle: 'italic', fontFamily: FF}
};
function rText(x, y, val, color) {
  return {type: 'text', x, y, silent: true, z: 100,
    style: {text: '{r|R}{s|spear}{r|= }{i|' + val + '}', rich: rRich, fill: color,
      align: 'left', verticalAlign: 'middle'}};
}

const chart = echarts.init(document.getElementById('c'), null, {renderer: 'canvas'});
chart.setOption({
  animation: false,
  backgroundColor: '#ffffff',
  textStyle: {fontFamily: FF},
  grid: GRIDS.map(g => Object.assign({containLabel: false, outerBoundsMode: 'none'}, g)),
  xAxis: xAxes,
  yAxis: yAxes,
  legend: {
    left: 421, top: 52, orient: 'horizontal', selectedMode: false,
    itemWidth: 12, itemHeight: 12, itemGap: 137,
    padding: [13, 21, 14, 30],
    borderColor: AX, borderWidth: 1.3, backgroundColor: '#ffffff',
    textStyle: {fontSize: 28.7, color: AX, fontFamily: FF, padding: [0, 0, 0, 37]},
    data: [
      {name: seriesNames[0], icon: 'circle'},
      {name: seriesNames[1], icon: 'circle', textStyle: {padding: [0, 0, 0, 23]}}
    ]
  },
  graphic: [
    rText(93, 357, rSpear1[0], BLUE), rText(93, 389, rSpear1[1], ORANGE),
    rText(848, 209, rSpear2[0], BLUE), rText(848, 240, rSpear2[1], ORANGE),
    rText(1195, 302, rSpear3[0], BLUE), rText(1195, 333, rSpear3[1], ORANGE)
  ],
  series
});
</script></body></html>
